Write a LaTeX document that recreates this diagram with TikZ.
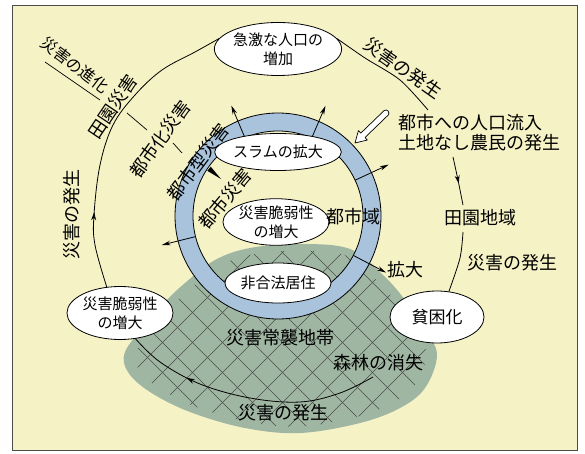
\documentclass[tikz,border=0pt]{standalone}
\usepackage{fontspec}
\setmainfont{Noto Sans CJK JP}
\usetikzlibrary{arrows.meta,shapes.geometric,decorations.markings}
\definecolor{bgyel}{HTML}{F5F2C6}
\definecolor{blobg}{HTML}{9FB6A2}
\definecolor{ringb}{HTML}{A8C3DB}
\newcommand\blobshape{plot[smooth cycle, tension=0.6] coordinates {(125,352) (145,325) (165,302) (185,283) (215,260) (250,248) (300,244) (350,249) (383,275) (405,300) (425,330) (437,355) (425,388) (400,408) (360,423) (300,433) (245,428) (190,412) (150,392) (128,372)}}
\newcommand\hatchshape{plot[smooth cycle, tension=0.6] coordinates {(136.2,351.2) (154.8,326.1) (173.4,304.7) (192,287) (219.9,265.6) (252.5,254.4) (299,250.7) (345.5,255.4) (376.1,279.6) (396.6,302.8) (415.2,330.7) (426.4,354) (415.2,384.6) (392,403.2) (354.8,417.2) (299,426.5) (247.8,421.8) (196.7,407) (159.4,388.4) (139,369.8)}}
\begin{document}
\begin{tikzpicture}[x=1pt,y=-1pt,
  bub/.style={ellipse, draw=black, line width=0.8pt, fill=white, inner sep=0pt, align=center, font=\fontsize{15}{19}\selectfont},
  lab/.style={font=\fontsize{18}{20}\selectfont, inner sep=0pt, align=left},
  slab/.style={font=\fontsize{16}{18}\selectfont, inner sep=0pt},
  ax/.style={line width=0.7pt},
  cyc/.style={line width=0.8pt},
  hatch/.style={line width=0.5pt, draw=black!70},
  midarrow/.style={postaction={decorate}, decoration={markings, mark=at position #1 with {\arrow{Stealth[length=8pt,width=5pt]}}}},
  tickarrow/.style={line width=0.8pt, -{Stealth[length=9pt,width=4.5pt]}}]
\useasboundingbox (0,0) rectangle (585,454);
\fill[white] (0,0) rectangle (585,454);
\draw[fill=bgyel, draw=black!70, line width=0.8pt] (12,5) rectangle (577,450);

% hazard zone
\fill[blobg] \blobshape;
\begin{scope}
\clip \hatchshape;
\foreach \a in {-160,-130,...,470} \draw[hatch] (\a,200) -- ++(260,260);
\foreach \a in {95,125,...,725} \draw[hatch] (\a,200) -- ++(-260,260);
\end{scope}

% nodes of the big cycle
\node[bub, minimum width=101, minimum height=53] (top) at (278,49) {急激な人口の\\増加};
\node[bub, minimum width=93, minimum height=53] (lv) at (120,313) {災害脆弱性\\の増大};
\node[bub, minimum width=94, minimum height=52, font=\fontsize{17}{19}\selectfont] (pov) at (437,317) {貧困化};

\node[lab, anchor=west] (flow) at (398,133) {都市への人口流入\\土地なし農民の発生};
\node[lab] (rural) at (480,218) {田園地域};
\node[lab] (occR) at (512,263) {災害の発生};
\node[lab, rotate=-35] (occT) at (403,68) {災害の発生};
\node[lab, rotate=90] (occL) at (72,214) {災害の発生};
\node[lab] (occB) at (283,413) {災害の発生};
\node[lab] (forest) at (378,363) {森林の消失};
\node[lab] (zone) at (280,338) {災害常襲地帯};

\coordinate (bEnd) at (428,110);
\coordinate (cStart) at (453,157);
\coordinate (cEnd) at (463,205);
\coordinate (dStart) at (463,232);
\coordinate (eStart) at (373,377);

\draw[cyc, midarrow=0.25] plot[smooth, tension=0.6] coordinates {(lv.117) (95,245) (94,215) (100,165) (113,125) (135,95) (162,70) (195,52) (top.170)};
\draw[cyc] plot[smooth] coordinates {(top.10) (365,58) (400,80) (bEnd)};
\draw[cyc, midarrow=0.55] plot[smooth] coordinates {(cStart) (458,180) (cEnd)};
\draw[cyc] plot[smooth] coordinates {(dStart) (460,258) (pov.65)};
\draw[cyc, midarrow=0.75] plot[smooth, tension=0.6] coordinates {(eStart) (340,393) (300,402) (250,398) (200,384) (160,362) (lv.-59)};

% urban ring
\coordinate (C) at (278,216);
\fill[ringb, even odd rule] (C) circle[radius=103] (C) circle[radius=85];
\draw[line width=0.8pt] (C) circle[radius=103];
\draw[line width=0.8pt] (C) circle[radius=85];

\coordinate (i1) at (244.9,137.7); \coordinate (t1) at (231.3,105.5);
\coordinate (i2) at (311.7,138.0); \coordinate (t2) at (325.5,105.8);
\coordinate (i3) at (355.1,180.2); \coordinate (t3) at (388.7,164.6);
\coordinate (i4) at (353.3,255.4); \coordinate (t4) at (386.1,272.6);
\coordinate (i5) at (195.6,236.6); \coordinate (t5) at (161.6,245.1);
\foreach \k in {1,...,5} \draw[tickarrow] (i\k) -- (t\k);

% inward wedge
\fill (207.25,170.8) -- (210.75,166.7) -- (221,179) -- cycle;

% hollow arrow
\draw[fill=white, line width=0.7pt, line join=round] (388.1,115.2) -- (365.0,137.5) -- (367.4,140.0) -- (355,143) -- (358.4,130.6) -- (360.8,133.1) -- (383.9,110.8) to[out=45,in=45,looseness=1.6] cycle;

\node[bub, minimum width=86, minimum height=37] (slum) at (278,152) {スラムの拡大};
\node[bub, minimum width=83, minimum height=45] (vul) at (276,222) {災害脆弱性\\の増大};
\node[bub, minimum width=87, minimum height=40] (illegal) at (278,283) {非合法居住};
\node[lab] (urban) at (353,217) {都市域};
\node[lab] (expand) at (405,270) {拡大};

% evolution of disasters
\node[slab, rotate=-37] (evo) at (75,65) {災害の進化};
\coordinate (a1) at (45,62); \coordinate (a2) at (100,100);
\coordinate (a3) at (127,113); \coordinate (a4) at (147,130);
\coordinate (a5) at (173,143); \coordinate (a6) at (182,153);
\draw[ax] (a1) -- (a2);
\draw[ax] (a3) -- (a4);
\draw[ax] (a5) -- (a6);
\node[lab, rotate=56] (d1) at (113,107) {田園災害};
\node[lab, rotate=54] (d2) at (160,139) {都市化災害};
\node[lab, rotate=53] (d3) at (198,162) {都市型災害};
\node[lab, rotate=50] (d4) at (225,199) {都市災害};
\end{tikzpicture}
\end{document}
